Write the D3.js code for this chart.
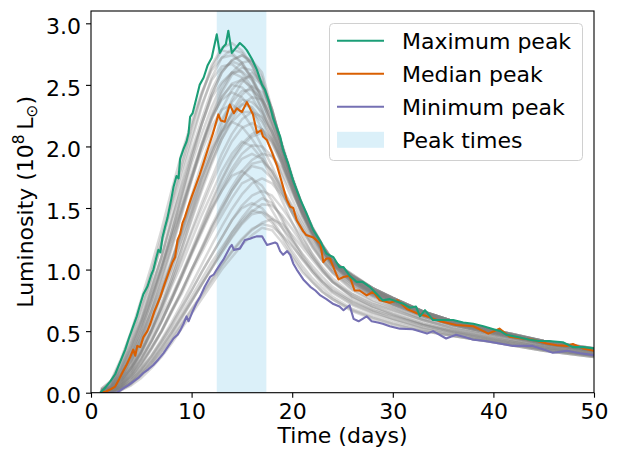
<!DOCTYPE html>
<html>
<head>
<meta charset="utf-8">
<script src="https://cdn.jsdelivr.net/npm/d3@7"></script>
<style>
  html, body { margin: 0; padding: 0; background: #fff; }
  svg { display: block; font-family: "DejaVu Sans", sans-serif; }
</style>
</head>
<body>
<svg id="chart" width="621" height="453"></svg>
<script>
// ---------- DATA ----------
const xTicks = [0, 10, 20, 30, 40, 50];
const yTicks = [0.0, 0.5, 1.0, 1.5, 2.0, 2.5, 3.0];
const peakBand = [12.5, 17.43];

const legendLabels = ["Maximum peak", "Median peak", "Minimum peak", "Peak times"];

// Maximum-peak curve: [time (days), luminosity (1e8 Lsun)]
const maxPeak = [[0.9,0.0],[1.3,0.03],[1.9,0.09],[2.4,0.15],[2.9,0.25],[3.4,0.35],[3.8,0.45],[4.2,0.54],[4.55,0.62],[4.9,0.72],[5.2,0.8],[5.6,0.86],[6.0,0.96],[6.2,1.0],[6.5,1.1],[6.7,1.16],[6.9,1.14],[7.1,1.26],[7.37,1.35],[7.6,1.42],[7.8,1.5],[8.0,1.58],[8.2,1.67],[8.5,1.76],[8.7,1.74],[8.86,1.9],[9.2,1.98],[9.5,2.04],[9.7,2.11],[9.85,2.24],[10.1,2.27],[10.5,2.4],[10.8,2.5],[11.2,2.56],[11.6,2.66],[12.0,2.72],[12.5,2.91],[12.8,2.76],[13.16,2.81],[13.4,2.83],[13.65,2.94],[14.0,2.76],[14.4,2.8],[14.8,2.84],[15.2,2.81],[15.5,2.78],[16.0,2.71],[16.5,2.62],[17.0,2.5],[17.3,2.46],[17.7,2.36],[18.1,2.23],[18.8,2.08],[19.1,1.97],[19.6,1.86],[20.1,1.72],[20.8,1.57],[21.4,1.46],[22.1,1.32],[22.8,1.23],[23.4,1.13],[24.1,1.1],[24.7,1.02],[25.1,1.02],[25.7,0.95],[26.4,0.9],[27.0,0.9],[27.7,0.86],[28.3,0.81],[29.0,0.75],[29.7,0.76],[30.4,0.74],[31.1,0.72],[31.7,0.69],[32.3,0.7],[32.7,0.62],[33.2,0.67],[34.0,0.59],[35.0,0.59],[36.0,0.59],[37.0,0.57],[38.0,0.56],[39.0,0.54],[40.0,0.515],[40.7,0.5],[41.3,0.47],[42.5,0.45],[43.6,0.43],[44.5,0.42],[45.5,0.42],[46.9,0.41],[47.9,0.37],[49.0,0.37],[50.0,0.36]];

const medianPeak = [[0.9,0.0],[1.5,0.01],[2.0,0.03],[2.4,0.05],[2.8,0.11],[3.1,0.16],[3.5,0.22],[3.9,0.29],[4.2,0.35],[4.4,0.3],[4.6,0.38],[4.9,0.37],[5.2,0.45],[5.6,0.5],[5.9,0.56],[6.3,0.66],[6.6,0.72],[6.9,0.78],[7.3,0.88],[7.7,0.97],[8.1,1.06],[8.36,1.1],[8.6,1.24],[8.86,1.29],[9.1,1.38],[9.35,1.43],[9.7,1.52],[10.0,1.59],[10.4,1.68],[10.8,1.77],[11.2,1.87],[11.7,2.0],[12.1,2.1],[12.66,2.26],[12.9,2.21],[13.3,2.2],[13.8,2.34],[14.2,2.27],[14.5,2.31],[14.8,2.29],[15.0,2.28],[15.5,2.36],[16.1,2.26],[16.5,2.11],[16.9,2.13],[17.1,2.08],[17.5,2.05],[18.0,1.95],[18.5,1.84],[19.0,1.7],[19.45,1.57],[19.8,1.51],[20.1,1.5],[20.45,1.4],[21.1,1.31],[21.4,1.28],[22.1,1.26],[22.8,1.21],[23.1,1.06],[23.4,1.09],[23.75,1.09],[24.2,1.0],[24.6,0.92],[25.1,0.94],[25.7,0.95],[26.2,0.83],[26.7,0.83],[27.4,0.79],[28.05,0.82],[28.7,0.75],[29.7,0.73],[30.5,0.75],[31.4,0.68],[32.4,0.645],[33.4,0.62],[34.7,0.58],[36.3,0.55],[38.0,0.54],[39.5,0.48],[40.6,0.52],[41.6,0.455],[42.8,0.44],[43.9,0.43],[45.3,0.40],[46.3,0.385],[47.3,0.38],[47.9,0.395],[48.9,0.36],[50.0,0.34]];

const minPeak = [[1.2,0.0],[2.0,0.0],[2.6,0.0],[3.2,0.035],[3.7,0.06],[4.2,0.09],[4.7,0.12],[5.2,0.16],[5.7,0.19],[6.2,0.225],[6.7,0.27],[7.2,0.32],[7.7,0.38],[8.2,0.44],[8.6,0.47],[8.9,0.51],[9.2,0.56],[9.5,0.62],[9.7,0.58],[10.1,0.66],[10.5,0.73],[10.85,0.78],[11.3,0.86],[11.84,0.94],[12.2,0.96],[12.5,1.0],[12.9,1.05],[13.16,1.08],[13.8,1.18],[14.0,1.2],[14.2,1.16],[14.8,1.17],[15.3,1.24],[15.8,1.25],[16.1,1.26],[16.5,1.27],[17.0,1.27],[17.5,1.2],[17.9,1.21],[18.3,1.22],[18.5,1.21],[18.8,1.15],[19.1,1.12],[19.5,1.15],[19.8,1.12],[20.1,1.05],[20.45,1.0],[21.1,0.92],[21.8,0.86],[22.3,0.83],[22.8,0.79],[23.4,0.76],[24.1,0.72],[24.7,0.7],[25.1,0.67],[25.7,0.71],[26.1,0.6],[26.6,0.58],[27.4,0.62],[27.9,0.58],[28.5,0.57],[29.0,0.56],[29.7,0.54],[30.7,0.52],[32.0,0.515],[33.4,0.48],[34.0,0.5],[35.3,0.44],[36.3,0.47],[37.2,0.45],[38.0,0.43],[39.2,0.42],[40.6,0.40],[41.95,0.38],[43.0,0.38],[43.9,0.38],[45.0,0.35],[45.9,0.325],[47.3,0.34],[48.6,0.32],[50.0,0.305]];

// Individual realisations (grey), sampled at grayTimes
const grayTimes = [1,2,3,4,5,6,7,8,9,10,11,12,13,14,15,16,17,18,19,20,21,22,23,24,26,28,30,33,36,40,45,50];
const grayRuns = [
  [0.02,0.07,0.22,0.42,0.66,0.92,1.22,1.52,1.84,2.14,2.42,2.66,2.8,2.84,2.78,2.66,2.48,2.26,2.0,1.74,1.5,1.32,1.18,1.07,0.93,0.83,0.76,0.65,0.58,0.5,0.42,0.36],
  [0.01,0.05,0.18,0.36,0.58,0.84,1.1,1.42,1.74,2.04,2.32,2.56,2.72,2.79,2.76,2.66,2.5,2.28,2.0,1.74,1.5,1.32,1.18,1.07,0.94,0.84,0.76,0.66,0.58,0.51,0.42,0.36],
  [0.01,0.04,0.15,0.3,0.5,0.74,1.0,1.3,1.6,1.9,2.18,2.42,2.6,2.7,2.74,2.68,2.52,2.3,2.0,1.73,1.5,1.31,1.17,1.06,0.95,0.84,0.77,0.66,0.58,0.51,0.42,0.36],
  [0.02,0.06,0.2,0.38,0.6,0.84,1.1,1.38,1.68,1.96,2.22,2.46,2.62,2.69,2.66,2.56,2.4,2.2,1.96,1.72,1.5,1.32,1.18,1.06,0.92,0.82,0.75,0.65,0.57,0.5,0.41,0.35],
  [0.01,0.03,0.12,0.26,0.44,0.66,0.9,1.16,1.44,1.72,2.0,2.24,2.44,2.58,2.64,2.62,2.5,2.3,1.98,1.72,1.49,1.31,1.17,1.06,0.95,0.85,0.77,0.66,0.58,0.51,0.42,0.35],
  [0.01,0.05,0.17,0.34,0.55,0.78,1.03,1.3,1.58,1.86,2.1,2.32,2.5,2.6,2.61,2.54,2.4,2.2,1.98,1.74,1.52,1.34,1.2,1.08,0.93,0.83,0.76,0.65,0.57,0.5,0.41,0.35],
  [0.0,0.03,0.1,0.22,0.38,0.58,0.8,1.05,1.32,1.6,1.86,2.1,2.3,2.46,2.55,2.57,2.5,2.26,1.98,1.72,1.5,1.32,1.18,1.07,0.96,0.85,0.77,0.66,0.58,0.5,0.42,0.35],
  [0.01,0.05,0.16,0.32,0.52,0.74,0.98,1.24,1.5,1.76,2.0,2.22,2.4,2.5,2.48,2.4,2.26,2.08,1.88,1.66,1.46,1.3,1.16,1.05,0.91,0.81,0.74,0.64,0.57,0.5,0.41,0.35],
  [0.0,0.03,0.11,0.24,0.4,0.6,0.82,1.06,1.3,1.55,1.8,2.02,2.22,2.36,2.45,2.46,2.38,2.22,2.0,1.74,1.52,1.34,1.2,1.08,0.94,0.84,0.76,0.65,0.57,0.5,0.41,0.35],
  [0.0,0.02,0.08,0.18,0.32,0.5,0.7,0.92,1.16,1.4,1.64,1.86,2.06,2.22,2.34,2.4,2.38,2.26,2.0,1.74,1.5,1.32,1.18,1.07,0.96,0.85,0.77,0.66,0.58,0.5,0.41,0.35],
  [0.01,0.04,0.13,0.27,0.44,0.63,0.84,1.06,1.3,1.52,1.74,1.94,2.12,2.26,2.34,2.32,2.22,2.06,1.86,1.66,1.46,1.3,1.16,1.05,0.91,0.81,0.74,0.64,0.56,0.49,0.41,0.34],
  [0.0,0.02,0.09,0.2,0.34,0.5,0.68,0.88,1.1,1.32,1.54,1.74,1.94,2.1,2.22,2.28,2.24,2.12,1.94,1.72,1.48,1.3,1.16,1.05,0.93,0.82,0.75,0.64,0.56,0.49,0.4,0.34],
  [0.0,0.03,0.1,0.21,0.35,0.51,0.69,0.89,1.09,1.3,1.5,1.7,1.88,2.04,2.15,2.19,2.14,2.02,1.86,1.68,1.5,1.33,1.18,1.06,0.91,0.81,0.74,0.63,0.56,0.49,0.4,0.34],
  [0.0,0.01,0.06,0.15,0.27,0.41,0.57,0.75,0.94,1.14,1.34,1.54,1.72,1.88,2.0,2.08,2.11,2.04,1.9,1.72,1.48,1.3,1.15,1.04,0.92,0.81,0.74,0.63,0.55,0.48,0.4,0.34],
  [0.0,0.02,0.07,0.16,0.28,0.42,0.58,0.76,0.94,1.13,1.32,1.5,1.67,1.82,1.94,2.01,2.0,1.92,1.78,1.62,1.46,1.3,1.16,1.04,0.89,0.79,0.72,0.62,0.55,0.48,0.4,0.33],
  [0.0,0.01,0.05,0.12,0.22,0.35,0.49,0.65,0.82,1.0,1.18,1.36,1.52,1.67,1.8,1.89,1.94,1.92,1.82,1.66,1.46,1.28,1.14,1.03,0.9,0.8,0.72,0.62,0.55,0.48,0.39,0.33],
  [0.0,0.01,0.05,0.13,0.23,0.36,0.5,0.66,0.83,1.0,1.17,1.34,1.5,1.64,1.76,1.84,1.82,1.74,1.62,1.48,1.34,1.2,1.08,0.98,0.84,0.75,0.69,0.6,0.53,0.47,0.39,0.33],
  [0.0,0.0,0.04,0.1,0.19,0.3,0.43,0.57,0.72,0.88,1.04,1.2,1.35,1.49,1.61,1.7,1.74,1.7,1.6,1.46,1.32,1.19,1.07,0.97,0.83,0.74,0.68,0.59,0.52,0.46,0.38,0.32],
  [0.0,0.01,0.04,0.1,0.19,0.29,0.41,0.54,0.68,0.83,0.98,1.12,1.26,1.4,1.52,1.6,1.64,1.6,1.5,1.38,1.25,1.13,1.02,0.93,0.8,0.72,0.66,0.58,0.51,0.45,0.37,0.32],
  [0.0,0.0,0.03,0.08,0.16,0.25,0.36,0.48,0.61,0.74,0.88,1.01,1.14,1.27,1.38,1.47,1.53,1.52,1.44,1.33,1.21,1.1,1.0,0.91,0.78,0.7,0.64,0.56,0.5,0.44,0.37,0.31],
  [0.0,0.01,0.04,0.09,0.17,0.26,0.37,0.49,0.62,0.75,0.88,1.01,1.14,1.26,1.37,1.45,1.47,1.42,1.34,1.24,1.13,1.03,0.94,0.86,0.75,0.67,0.62,0.55,0.49,0.43,0.36,0.31],
  [0.0,0.0,0.02,0.07,0.14,0.22,0.32,0.43,0.55,0.67,0.79,0.91,1.03,1.14,1.24,1.32,1.38,1.41,1.37,1.28,1.18,1.08,0.98,0.9,0.77,0.69,0.63,0.55,0.49,0.43,0.36,0.3],
  [0.0,0.0,0.03,0.08,0.15,0.23,0.33,0.44,0.56,0.68,0.8,0.92,1.04,1.15,1.25,1.33,1.37,1.35,1.28,1.19,1.09,1.0,0.91,0.84,0.73,0.66,0.6,0.53,0.48,0.42,0.35,0.3],
  [0.02,0.08,0.24,0.44,0.68,0.93,1.2,1.5,1.8,2.08,2.34,2.54,2.65,2.67,2.6,2.48,2.3,2.1,1.86,1.64,1.44,1.28,1.15,1.04,0.9,0.81,0.74,0.64,0.57,0.5,0.41,0.35],
  [0.01,0.04,0.14,0.29,0.48,0.7,0.94,1.2,1.47,1.74,2.0,2.22,2.4,2.51,2.54,2.48,2.36,2.18,1.96,1.74,1.53,1.35,1.2,1.08,0.93,0.83,0.75,0.65,0.57,0.5,0.41,0.35],
  [0.01,0.06,0.18,0.35,0.55,0.77,1.0,1.26,1.52,1.78,2.02,2.24,2.38,2.44,2.4,2.3,2.14,1.96,1.76,1.57,1.4,1.26,1.13,1.03,0.89,0.8,0.73,0.63,0.56,0.49,0.41,0.35],
  [0.01,0.04,0.13,0.26,0.42,0.6,0.8,1.02,1.24,1.46,1.68,1.88,2.06,2.2,2.28,2.28,2.2,2.04,1.84,1.64,1.45,1.29,1.15,1.04,0.9,0.8,0.73,0.63,0.56,0.49,0.4,0.34],
  [0.0,0.02,0.08,0.19,0.34,0.52,0.73,0.96,1.2,1.46,1.72,1.96,2.18,2.38,2.52,2.6,2.52,2.3,2.0,1.74,1.5,1.32,1.18,1.07,0.95,0.85,0.77,0.66,0.58,0.51,0.42,0.35],
  [0.01,0.04,0.15,0.31,0.52,0.76,1.02,1.3,1.6,1.9,2.18,2.42,2.6,2.7,2.74,2.7,2.56,2.28,2.0,1.74,1.5,1.32,1.18,1.07,0.95,0.85,0.77,0.66,0.58,0.51,0.42,0.36],
  [0.0,0.02,0.07,0.16,0.28,0.42,0.58,0.75,0.93,1.12,1.3,1.48,1.64,1.79,1.9,1.94,1.9,1.8,1.66,1.52,1.38,1.24,1.11,1.0,0.86,0.77,0.7,0.6,0.54,0.47,0.39,0.33],
  [0.03,0.1,0.28,0.5,0.76,1.03,1.32,1.64,1.94,2.2,2.44,2.62,2.72,2.74,2.68,2.56,2.38,2.16,1.92,1.68,1.46,1.3,1.16,1.05,0.91,0.82,0.75,0.65,0.57,0.5,0.41,0.35],
  [0.02,0.07,0.21,0.4,0.6,0.86,1.1,1.4,1.66,1.94,2.18,2.4,2.52,2.6,2.56,2.46,2.3,2.12,1.9,1.68,1.47,1.31,1.17,1.06,0.92,0.82,0.75,0.64,0.57,0.5,0.41,0.35],
  [0.0,0.03,0.12,0.22,0.4,0.56,0.8,1.0,1.26,1.48,1.74,1.94,2.14,2.26,2.38,2.36,2.28,2.12,1.92,1.7,1.5,1.33,1.19,1.07,0.92,0.82,0.75,0.64,0.57,0.49,0.41,0.34],
  [0.01,0.05,0.15,0.3,0.47,0.66,0.86,1.08,1.32,1.54,1.78,1.98,2.12,2.2,2.16,2.06,1.94,1.78,1.62,1.46,1.32,1.18,1.07,0.98,0.86,0.78,0.71,0.62,0.55,0.48,0.4,0.34],
  [0.0,0.02,0.09,0.2,0.33,0.5,0.66,0.86,1.04,1.24,1.44,1.62,1.8,1.94,2.04,2.0,1.9,1.74,1.56,1.38,1.22,1.1,0.99,0.9,0.8,0.72,0.67,0.59,0.52,0.46,0.38,0.32],
  [0.0,0.01,0.06,0.13,0.24,0.36,0.5,0.67,0.82,1.0,1.16,1.34,1.48,1.64,1.76,1.86,1.88,1.8,1.64,1.46,1.28,1.12,1.0,0.9,0.78,0.7,0.64,0.56,0.5,0.44,0.37,0.31],
  [0.0,0.02,0.06,0.14,0.24,0.37,0.5,0.66,0.8,0.98,1.14,1.3,1.44,1.58,1.7,1.74,1.68,1.56,1.4,1.24,1.1,0.98,0.88,0.81,0.71,0.64,0.59,0.52,0.47,0.42,0.35,0.3],
  [0.0,0.0,0.03,0.08,0.15,0.24,0.35,0.47,0.6,0.74,0.88,1.02,1.16,1.3,1.42,1.52,1.58,1.54,1.42,1.26,1.12,1.0,0.9,0.82,0.72,0.65,0.6,0.53,0.48,0.42,0.35,0.3],
  [0.0,0.01,0.04,0.1,0.18,0.27,0.39,0.51,0.64,0.78,0.92,1.06,1.18,1.3,1.4,1.48,1.46,1.38,1.26,1.12,1.0,0.9,0.82,0.76,0.67,0.61,0.56,0.5,0.46,0.41,0.34,0.29],
  [0.0,0.0,0.02,0.06,0.12,0.2,0.29,0.4,0.52,0.64,0.76,0.88,1.0,1.1,1.2,1.28,1.34,1.32,1.22,1.1,0.98,0.9,0.82,0.76,0.66,0.6,0.55,0.5,0.46,0.41,0.34,0.29],
  [0.0,0.02,0.08,0.18,0.33,0.5,0.7,0.92,1.16,1.42,1.66,1.9,2.1,2.28,2.42,2.49,2.44,2.28,2.02,1.76,1.52,1.34,1.2,1.08,0.94,0.84,0.76,0.66,0.58,0.5,0.42,0.35],
  [0.02,0.07,0.2,0.38,0.58,0.8,1.02,1.26,1.5,1.74,1.96,2.16,2.3,2.34,2.28,2.16,2.0,1.84,1.66,1.5,1.35,1.22,1.1,1.0,0.88,0.79,0.72,0.63,0.56,0.49,0.41,0.35],
  [0.0,0.01,0.06,0.15,0.27,0.42,0.58,0.76,0.96,1.16,1.36,1.56,1.74,1.9,2.02,2.1,2.14,2.06,1.88,1.66,1.44,1.27,1.13,1.02,0.88,0.79,0.72,0.62,0.55,0.48,0.4,0.34],
  [0.01,0.03,0.1,0.2,0.32,0.46,0.62,0.78,0.96,1.14,1.32,1.5,1.64,1.76,1.8,1.74,1.62,1.48,1.34,1.2,1.08,0.98,0.9,0.83,0.74,0.67,0.62,0.55,0.5,0.44,0.37,0.31],
  [0.0,0.03,0.12,0.26,0.45,0.67,0.92,1.18,1.46,1.74,2.02,2.26,2.46,2.6,2.68,2.7,2.6,2.3,2.0,1.73,1.5,1.32,1.18,1.07,0.95,0.85,0.77,0.66,0.58,0.51,0.42,0.35],
  [0.03,0.09,0.26,0.48,0.72,0.98,1.26,1.56,1.88,2.16,2.42,2.64,2.78,2.76,2.68,2.54,2.36,2.16,1.92,1.7,1.48,1.31,1.17,1.06,0.92,0.83,0.76,0.65,0.57,0.5,0.41,0.35],
  [0.0,0.01,0.05,0.12,0.2,0.3,0.42,0.55,0.69,0.83,0.98,1.12,1.26,1.4,1.5,1.54,1.5,1.4,1.28,1.15,1.03,0.93,0.85,0.78,0.68,0.62,0.57,0.51,0.46,0.41,0.34,0.29]
];

// ---------- LAYOUT ----------
const svg = d3.select("#chart");
const plot = { left: 91, right: 594, top: 11, bottom: 392.7 };
const x = d3.scaleLinear().domain([0, 50]).range([plot.left, plot.right]);
const y = d3.scaleLinear().domain([0, 3.1]).range([plot.bottom, plot.top]);

const colors = { max: "#1b9e77", med: "#d95f02", min: "#7570b3", band: "rgba(135,206,235,0.3)", gray: "#808080" };
const FS = 22;

const clipId = "plotclip";
svg.append("defs").append("clipPath").attr("id", clipId)
  .append("rect").attr("x", plot.left).attr("y", plot.top)
  .attr("width", plot.right - plot.left).attr("height", plot.bottom - plot.top);

const g = svg.append("g").attr("clip-path", `url(#${clipId})`);

// Peak-time band
g.append("rect")
  .attr("x", x(peakBand[0])).attr("y", plot.top)
  .attr("width", x(peakBand[1]) - x(peakBand[0]))
  .attr("height", plot.bottom - plot.top)
  .attr("fill", colors.band);

const line = d3.line().x(d => x(d[0])).y(d => y(d[1]));

// Grey realisations
grayRuns.forEach(run => {
  const pts = grayTimes.map((t, i) => [t, run[i]]);
  g.append("path").attr("d", line(pts))
    .attr("fill", "none").attr("stroke", colors.gray)
    .attr("stroke-opacity", 0.3).attr("stroke-width", 2.5)
    .attr("stroke-linejoin", "round");
});

// Highlighted curves
[[minPeak, colors.min], [medianPeak, colors.med], [maxPeak, colors.max]].forEach(([data, c]) => {
  g.append("path").attr("d", line(data))
    .attr("fill", "none").attr("stroke", c)
    .attr("stroke-width", 2.1).attr("stroke-linejoin", "round");
});

// ---------- AXES ----------
const xAxis = svg.append("g").attr("transform", `translate(0,${plot.bottom})`)
  .call(d3.axisBottom(x).tickValues(xTicks).tickFormat(d3.format("d")).tickSize(5).tickPadding(5).tickSizeOuter(0));
const yAxis = svg.append("g").attr("transform", `translate(${plot.left},0)`)
  .call(d3.axisLeft(y).tickValues(yTicks).tickFormat(d3.format(".1f")).tickSize(5).tickPadding(5).tickSizeOuter(0));

[xAxis, yAxis].forEach(ax => {
  ax.select(".domain").remove();
  ax.selectAll(".tick line").attr("stroke", "#000").attr("stroke-width", 1.1);
  ax.selectAll(".tick text").attr("fill", "#000").style("font-size", FS + "px").style("font-family", "DejaVu Sans");
});
xAxis.selectAll(".tick text").attr("dy", "0.76em");
yAxis.selectAll(".tick text").attr("dy", "0.46em");

// Frame
svg.append("rect")
  .attr("x", plot.left).attr("y", plot.top)
  .attr("width", plot.right - plot.left).attr("height", plot.bottom - plot.top)
  .attr("fill", "none").attr("stroke", "#000").attr("stroke-width", 1.1);

// Axis labels
svg.append("text")
  .attr("x", (plot.left + plot.right) / 2).attr("y", 443)
  .attr("text-anchor", "middle").style("font-size", FS + "px").attr("fill", "#000")
  .text("Time (days)");

const yl = svg.append("text")
  .attr("transform", `translate(33,${(plot.top + plot.bottom) / 2}) rotate(-90)`)
  .attr("text-anchor", "middle").style("font-size", FS + "px").attr("fill", "#000");
yl.append("tspan").text("Luminosity (10");
yl.append("tspan").attr("dy", -9).style("font-size", "15.5px").text("8");
yl.append("tspan").attr("dy", 9).text("\u2009L");
yl.append("tspan").attr("dy", 4).style("font-size", "15.5px").text("\u2299");
yl.append("tspan").attr("dy", -4).text(")");

// ---------- LEGEND ----------
const lg = svg.append("g");
lg.append("rect")
  .attr("x", 329.5).attr("y", 23.5).attr("width", 253).attr("height", 137)
  .attr("rx", 4).attr("ry", 4)
  .attr("fill", "rgba(255,255,255,0.8)").attr("stroke", "#d0d0d0").attr("stroke-width", 1);

const legendItems = [
  { label: legendLabels[0], color: colors.max, type: "line" },
  { label: legendLabels[1], color: colors.med, type: "line" },
  { label: legendLabels[2], color: colors.min, type: "line" },
  { label: legendLabels[3], color: colors.band, type: "patch" }
];
legendItems.forEach((it, i) => {
  const cy = 40.8 + i * 33;
  if (it.type === "line") {
    lg.append("line").attr("x1", 337).attr("x2", 384).attr("y1", cy).attr("y2", cy)
      .attr("stroke", it.color).attr("stroke-width", 2.1);
  } else {
    lg.append("rect").attr("x", 337).attr("y", cy - 8).attr("width", 47).attr("height", 16)
      .attr("fill", it.color);
  }
  lg.append("text").attr("x", 402).attr("y", cy + 7.8)
    .style("font-size", FS + "px").attr("fill", "#000").text(it.label);
});
</script>
</body>
</html>
